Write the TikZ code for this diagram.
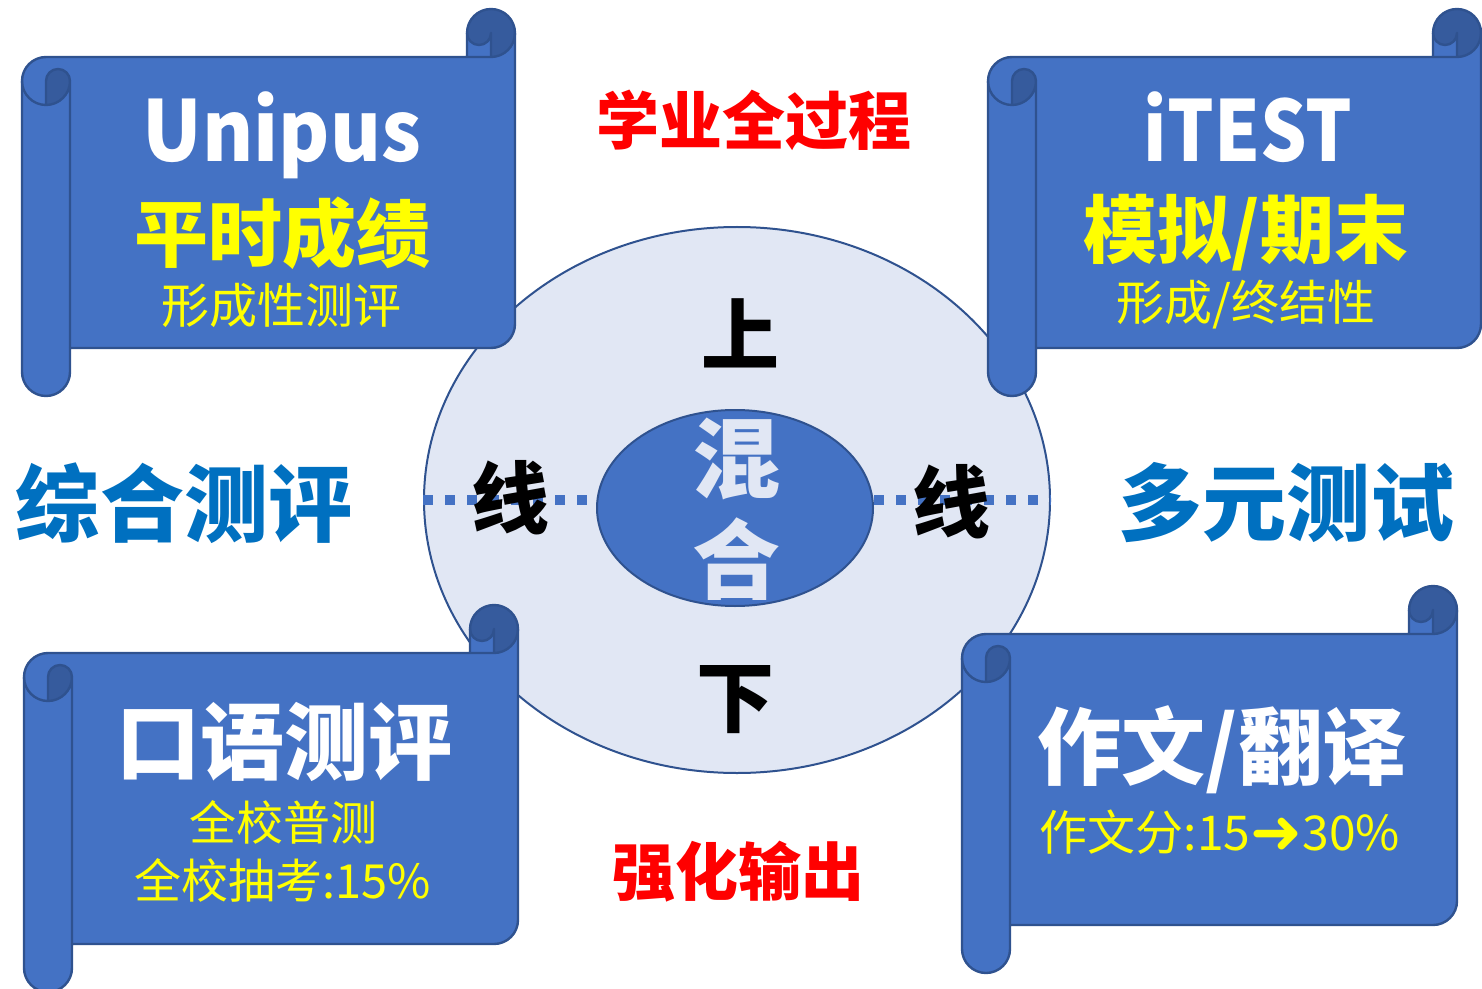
\documentclass[tikz,border=0pt]{standalone}
\usepackage{fontspec}
\setmainfont{Noto Sans CJK SC}
\newfontfamily\dvs{DejaVu Sans}
\usetikzlibrary{shapes.geometric}
\definecolor{scrollblue}{HTML}{4472C4}
\definecolor{scrolldark}{HTML}{365B9D}
\definecolor{edgeblue}{HTML}{2F528F}
\definecolor{lightbg}{HTML}{E1E7F4}
\definecolor{titleblue}{HTML}{0070C0}
\definecolor{yel}{HTML}{FFFF00}
\definecolor{redt}{HTML}{FF0000}
\newcommand\scrollat[3]{%
 \pgfmathsetmacro\scW{#3}%
 \pgfmathsetmacro\scWa{#3-48}%
 \pgfmathsetmacro\scWb{#3-24}%
 \begin{scope}[shift={(#1,#2)}]
  \fill[scrollblue] (24,48) -- (\scWa,48) -- (\scWa,24) arc[start angle=180,end angle=360,radius=24] -- (\scW,315) arc[start angle=0,end angle=90,radius=24] -- (48,339) -- (48,363) arc[start angle=0,end angle=180,radius=24] -- (0,72) arc[start angle=180,end angle=270,radius=24] -- cycle;
  \fill[scrolldark] (24,72) arc[start angle=180,end angle=360,radius=12] arc[start angle=0,end angle=90,radius=24] -- cycle;
  \fill[scrolldark] (\scWa,24) arc[start angle=180,end angle=360,radius=24] arc[start angle=0,end angle=90,radius=24] -- (\scWb,24) arc[start angle=0,end angle=180,radius=12] -- cycle;
  \draw[scrollline] (24,48) -- (\scWa,48) -- (\scWa,24) arc[start angle=180,end angle=360,radius=24] -- (\scW,315) arc[start angle=0,end angle=90,radius=24] -- (48,339) -- (48,363) arc[start angle=0,end angle=180,radius=24] -- (0,72) arc[start angle=180,end angle=270,radius=24] -- cycle;
  \draw[scrollline] (0,72) arc[start angle=180,end angle=0,radius=24] -- (48,339);
  \draw[scrollline] (24,96) -- (24,72) arc[start angle=180,end angle=360,radius=12];
  \draw[scrollline] (\scWb,48) -- (\scWb,24) arc[start angle=0,end angle=180,radius=12];
  \draw[scrollline] (\scWa,48) -- (\scWb,48) arc[start angle=90,end angle=0,radius=24];
 \end{scope}}
\begin{document}
\begin{tikzpicture}[x=0.5pt,y=-0.5pt,
  scrollline/.style={draw=edgeblue,line width=1.2pt,line join=round},
  txt/.style={inner sep=0pt,anchor=center},
  fs/.style={font=\fontsize{#1pt}{#1pt}\selectfont},
  fb/.style={font=\bfseries\fontsize{#1pt}{#1pt}\selectfont},
  dots/.style={draw=scrollblue,line width=5pt,dash pattern=on 5pt off 6pt}]
\useasboundingbox (0,0) rectangle (1482,989);
% central ellipses
\node[ellipse,draw=edgeblue,line width=1pt,fill=lightbg,minimum width=313pt,minimum height=273pt,inner sep=0pt] (outer) at (737,500) {};
\node[ellipse,draw=edgeblue,line width=1pt,fill=scrollblue,minimum width=138pt,minimum height=98pt,inner sep=0pt] (inner) at (735,508) {};
\draw[dots] (outer.west) -- (outer.west -| inner.west);
\draw[dots] (outer.east -| inner.east) -- (outer.east);
% scrolls
\scrollat{22}{9}{493}
\scrollat{988}{9}{493}
\scrollat{24}{605}{494}
\scrollat{962}{586}{495}
% texts top-left
\node[txt,anchor=base,fb=42,text=white] (unipus) at (282,162) {\scalebox{0.93}[1]{Unipus}};
\node[txt,fb=37,text=yel] (pingshi) at (282,233) {平时成绩};
\node[txt,fs=24,text=yel] (xcx) at (281,305) {形成性测评};
% top-right
\node[txt,anchor=base,fb=42,text=white] (itest) at (1248,162) {\scalebox{0.87}[1]{iTEST}};
\node[txt,fb=37,text=yel] (moni) at (1246,233) {模拟/期末};
\node[txt,fs=24,text=yel] (xzj) at (1246,305) {形成/终结性};
% side and top/bottom labels
\node[txt,fb=31.5,text=redt] (xueye) at (754,120) {学业全过程};
\node[txt,fb=31.5,text=redt] (qianghua) at (738,872) {强化输出};
\node[txt,fb=42,text=titleblue] (zonghe) at (184,503) {综合测评};
\node[txt,fb=42,text=titleblue] (duoyuan) at (1286,503) {多元测试};
% circle labels
\node[txt,fb=39,text=black] (shang) at (740,333) {上};
\node[txt,fb=39,text=black] (xia) at (735,700) {下};
\node[txt,fb=39,text=black] (xianL) at (510,498) {线};
\node[txt,fb=39,text=black] (xianR) at (951,502) {线};
\node[txt,fb=44,text=lightbg] (hun) at (736,459) {混};
\begin{scope}
\clip (0,0) rectangle (1482,599);
\node[txt,fb=44,text=lightbg] (he) at (736,560) {合};
\end{scope}
% bottom-left
\node[txt,fb=42,text=white] (kouyu) at (284,742) {口语测评};
\node[txt,fs=23.5,text=yel] (quanxiao) at (283,822) {全校普测};
\node[txt,fs=23.5,text=yel] (chouk) at (283,880) {全校抽考:15\%};
% bottom-right
\node[txt,fb=42,text=white] (zuowen) at (1222,750) {作文/翻译};
\node[txt,fs=24,text=yel] (zwf) at (1220,832) {作文分:15{\dvs\bfseries\fontsize{31pt}{31pt}\selectfont\raisebox{-1.5pt}{➜}}30\%};
\end{tikzpicture}
\end{document}
